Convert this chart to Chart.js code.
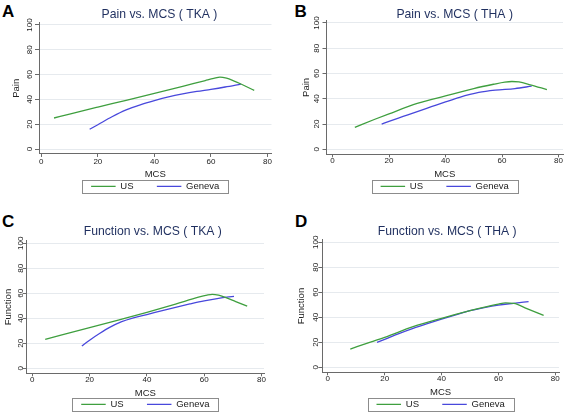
<!DOCTYPE html>
<html>
<head>
<meta charset="utf-8">
<script src="https://cdn.jsdelivr.net/npm/chart.js@4"></script>
<style>
  html, body { margin: 0; padding: 0; background: #fff; }
  body { width: 567px; height: 413px; overflow: hidden; position: relative; }
  canvas { position: absolute; }
  .lbl { position: absolute; font: bold 17px 'Liberation Sans', Arial, sans-serif; line-height: 17px; color: #000; }
</style>
</head>
<body>
<div class="lbl" style="left:2px;top:2.8px">A</div>
<div class="lbl" style="left:294.5px;top:2.8px">B</div>
<div class="lbl" style="left:2px;top:212.8px">C</div>
<div class="lbl" style="left:295px;top:212.8px">D</div>
<canvas id="cA"></canvas>
<canvas id="cB"></canvas>
<canvas id="cC"></canvas>
<canvas id="cD"></canvas>
<script>
// ---------- data ----------
const xTicks = [0, 20, 40, 60, 80];
const yTicks = [0, 20, 40, 60, 80, 100];
const seriesNames = ['US', 'Geneva'];
const xTitle = 'MCS';
const panelTitles = ['Pain vs. MCS ( TKA )', 'Pain vs. MCS ( THA )', 'Function vs. MCS ( TKA )', 'Function vs. MCS ( THA )'];
const yTitles = ['Pain', 'Pain', 'Function', 'Function'];

// A: Pain vs MCS (TKA)
const aUsMcs  = [4.5, 10, 20, 30, 40, 50, 58, 61, 63.2, 65.5, 68, 70.6, 75.3];
const aUsVal  = [25, 28.2, 33.8, 39.3, 44.9, 50.6, 55.2, 56.9, 58.0, 57.1, 55.0, 52.4, 47.3];
const aGeMcs  = [17.1, 20, 25, 30, 35, 40, 45, 50, 55, 60, 65, 70.6];
const aGeVal  = [15.9, 19.6, 26.0, 31.5, 35.6, 39.0, 42.0, 44.4, 46.4, 48.1, 50.0, 52.4];
// B: Pain vs MCS (THA)
const bUsMcs  = [7.9, 15, 20, 30, 40, 50, 57, 61, 63.5, 66, 70, 75.9];
const bUsVal  = [17.4, 23.8, 28.1, 36.3, 42.3, 48.1, 51.5, 53.2, 53.7, 53.3, 51.1, 47.3];
const bGeMcs  = [17.4, 20, 25, 30, 35, 40, 45, 51.8, 57.6, 64.6, 70.5];
const bGeVal  = [20.0, 22.1, 26.0, 29.9, 33.7, 37.5, 41.2, 45.0, 46.8, 48.1, 50.0];
// C: Function vs MCS (TKA)
const cUsMcs  = [4.5, 10, 20, 30, 40, 50, 58, 61, 62.8, 65, 67.6, 71, 75];
const cUsVal  = [23.2, 26.5, 32.5, 38.6, 44.8, 51.4, 56.9, 58.6, 59.2, 58.5, 56.5, 53.4, 49.8];
const cGeMcs  = [17.3, 20, 23.6, 27, 31.2, 35, 40, 45, 50, 55, 60, 65, 70.4];
const cGeVal  = [17.8, 22.5, 28.0, 32.7, 37.3, 40.2, 43.0, 46.0, 48.8, 51.5, 54.0, 56.0, 57.6];
// D: Function vs MCS (THA)
const dUsMcs  = [7.9, 15, 20, 30, 40, 50, 57, 60, 62.5, 65.4, 70, 75.9];
const dUsVal  = [14.6, 20.2, 24.0, 32.5, 39.2, 45.3, 49.2, 50.6, 51.5, 51.2, 47.0, 41.6];
const dGeMcs  = [17.3, 20, 25, 30, 35, 40, 45, 50, 55, 60, 65.3, 70.6];
const dGeVal  = [20.0, 22.4, 27.0, 31.2, 35.0, 38.6, 42.0, 45.3, 47.8, 49.8, 51.2, 52.5];

// ---------- styles / layout ----------
const FAMILY = "'Liberation Sans', Arial, Helvetica, sans-serif";
const US_COLOR = '#3f9f3f', GE_COLOR = '#4848dc';
const TITLE_COLOR = '#1f2f5f', TEXT_COLOR = '#222', AXIS_COLOR = '#6a6a6a', GRID_COLOR = '#e6eaee';
const FT = 12.2, FA = 9.5, FK = 8, FL = 9.5, LHF = 1.2;
const TLY = 4, TLX = 3, LP = 23.3, PSW = 24.5, LW = 1.3;
const YMIN = -4, YMAX = 102;

const geo = {
  A: {cl: 0,   ct: 0,   L: 39,    R: 271.5, x0: 41.3,  x80: 267.5, y0: 149,   y100: 25,    tx: 159.5, ty: 15,    ytx: 16,    ytick: 29.7,  xtick: 161.8, xtitle: 174,   Ly: 186.3},
  B: {cl: 283, ct: 0,   L: 326.5, R: 563,   x0: 332.5, x80: 558.5, y0: 149.3, y100: 23,    tx: 454.7, ty: 14.5,  ytx: 306,   ytick: 316.3, xtick: 160.8, xtitle: 174.2, Ly: 186.3},
  C: {cl: 0,   ct: 205, L: 26.7,  R: 264,   x0: 32.3,  x80: 261.5, y0: 368.3, y100: 243.3, tx: 152.8, ty: 231.7, ytx: 8.3,   ytick: 20.7,  xtick: 380,   xtitle: 393.8, Ly: 404.3},
  D: {cl: 283, ct: 205, L: 322.3, R: 559,   x0: 327.8, x80: 555.3, y0: 367.3, y100: 242.3, tx: 447.2, ty: 231.7, ytx: 301.3, ytick: 315.7, xtick: 379.2, xtitle: 392.5, Ly: 404.3}
};

Chart.defaults.font.family = FAMILY;

const mctx = document.createElement('canvas').getContext('2d');
mctx.font = FK + 'px ' + FAMILY;
const widest = mctx.measureText('100').width;

function pts(xs, ys) { return xs.map((x, i) => ({x: x, y: ys[i]})); }

const legendFrame = {
  id: 'legendFrame',
  afterDraw(chart) {
    const lg = chart.legend;
    if (!lg || !lg.legendHitBoxes || !lg.legendHitBoxes.length) return;
    const hb = lg.legendHitBoxes;
    const left = Math.min(...hb.map(h => h.left)) - 8.8;
    const right = Math.max(...hb.map(h => h.left + h.width)) + 9.4;
    const top = hb[0].top - 1.3;
    const bottom = hb[0].top + 11.4;
    const ctx = chart.ctx;
    ctx.save();
    ctx.strokeStyle = '#8c8c8c';
    ctx.lineWidth = 1;
    ctx.strokeRect(Math.round(left) + 0.5, Math.round(top) + 0.5, Math.round(right - left), Math.round(bottom - top));
    ctx.restore();
  }
};

function make(id, g, title, yTitle, usX, usY, geX, geY) {
  const per = (g.x80 - g.x0) / 80;
  const xmin = (g.L - g.x0) / per, xmax = (g.R - g.x0) / per;
  const pu = (g.y0 - g.y100) / 100;
  const T = g.y0 - YMAX * pu, B = g.y0 - YMIN * pu;
  const titleLH = FT * LHF;
  const tpt = g.ty - g.ct - titleLH / 2;
  const tpb = T - g.ct - titleLH - tpt;
  const legendH = FL + LP + 10;
  const Hx = g.Ly - FL / 2 - LP - B;
  const axLH = FA * LHF;
  const xTitlePb = B + Hx - axLH / 2 - g.xtitle;
  // mirrored labels are not clipped to the (thin) axis box
  const xTickPad = B - FK * LHF / 2 - g.xtick;
  const yTickPad = g.L - TLY - widest / 2 - g.ytick;
  const yTitlePt = g.ytx - g.cl - axLH / 2;
  const Wy = g.L - g.cl;
  const br = 2 * g.tx - g.cl;
  const wF = br - g.cl, W = Math.ceil(wF), padR = W - wF;
  const Rd = br - g.R;
  const hF = B + Hx + legendH - g.ct, H = Math.ceil(hF), padB = H - hF;

  const cv = document.getElementById(id);
  cv.width = W; cv.height = H;
  cv.style.left = g.cl + 'px'; cv.style.top = g.ct + 'px';
  cv.style.width = W + 'px'; cv.style.height = H + 'px';

  return new Chart(cv, {
    type: 'line',
    data: {
      datasets: [
        {label: seriesNames[0], data: pts(usX, usY), borderColor: US_COLOR, backgroundColor: US_COLOR, borderWidth: LW, pointRadius: 0, fill: false, cubicInterpolationMode: 'monotone'},
        {label: seriesNames[1], data: pts(geX, geY), borderColor: GE_COLOR, backgroundColor: GE_COLOR, borderWidth: LW, pointRadius: 0, fill: false, cubicInterpolationMode: 'monotone'}
      ]
    },
    options: {
      responsive: false,
      animation: false,
      devicePixelRatio: 1,
      events: [],
      layout: {padding: {left: 0, top: 0, right: padR, bottom: padB}},
      plugins: {
        tooltip: {enabled: false},
        title: {display: true, text: title, color: TITLE_COLOR, fullSize: true, align: 'center',
                font: {size: FT, weight: 'normal', family: FAMILY}, padding: {top: tpt, bottom: tpb}},
        legend: {display: true, position: 'bottom', fullSize: false, align: 'center',
                 labels: {usePointStyle: true, pointStyle: 'line', pointStyleWidth: PSW, padding: LP,
                          color: TEXT_COLOR, font: {size: FL, family: FAMILY}}}
      },
      scales: {
        x: {
          type: 'linear', position: 'bottom', min: xmin, max: xmax,
          afterBuildTicks: s => { s.ticks = xTicks.map(v => ({value: v})); },
          afterFit: s => { s.height = Hx; },
          grid: {drawOnChartArea: false, drawTicks: true, tickLength: TLX, tickColor: AXIS_COLOR, tickWidth: 1, color: AXIS_COLOR},
          border: {display: true, color: AXIS_COLOR, width: 1},
          ticks: {autoSkip: false, maxRotation: 0, minRotation: 0, mirror: true, padding: xTickPad, color: TEXT_COLOR, font: {size: FK}},
          title: {display: true, text: xTitle, color: TEXT_COLOR, font: {size: FA}, padding: {top: 0, bottom: xTitlePb}}
        },
        y: {
          type: 'linear', position: 'left', min: YMIN, max: YMAX,
          afterBuildTicks: s => { s.ticks = yTicks.map(v => ({value: v})); },
          afterFit: s => { s.width = Wy; },
          grid: {drawOnChartArea: true, drawTicks: true, tickLength: TLY, color: GRID_COLOR, tickColor: AXIS_COLOR, lineWidth: 1, tickWidth: 1},
          border: {display: true, color: AXIS_COLOR, width: 1},
          ticks: {autoSkip: false, minRotation: 90, maxRotation: 90, crossAlign: 'center', padding: yTickPad, color: TEXT_COLOR, font: {size: FK}},
          title: {display: true, text: yTitle, color: TEXT_COLOR, font: {size: FA}, padding: {top: yTitlePt, bottom: 0}}
        },
        yr: {
          type: 'linear', position: 'right', display: true,
          afterFit: s => { s.width = Rd; },
          grid: {display: false, drawTicks: false},
          border: {display: false},
          ticks: {display: false},
          title: {display: false}
        }
      }
    },
    plugins: [legendFrame]
  });
}

make('cA', geo.A, panelTitles[0], yTitles[0], aUsMcs, aUsVal, aGeMcs, aGeVal);
make('cB', geo.B, panelTitles[1], yTitles[1], bUsMcs, bUsVal, bGeMcs, bGeVal);
make('cC', geo.C, panelTitles[2], yTitles[2], cUsMcs, cUsVal, cGeMcs, cGeVal);
make('cD', geo.D, panelTitles[3], yTitles[3], dUsMcs, dUsVal, dGeMcs, dGeVal);
</script>
</body>
</html>
